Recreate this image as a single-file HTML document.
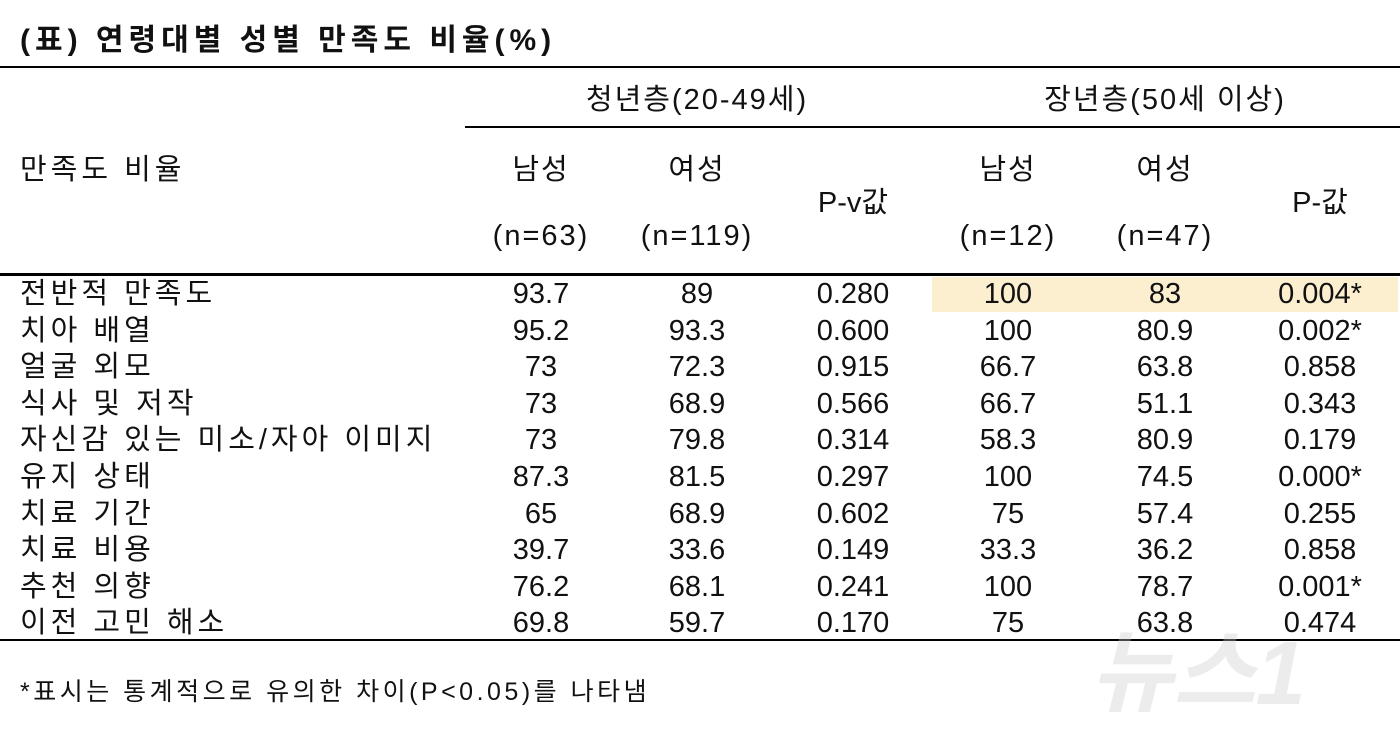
<!DOCTYPE html>
<html><head><meta charset="utf-8"><style>
body{margin:0;width:1400px;height:723px;background:#fff;position:relative;overflow:hidden;font-family:"Liberation Sans","Noto Sans CJK KR",sans-serif;color:#111}
.a{position:absolute;white-space:nowrap}
.t{font-size:29px;line-height:36px;transform:translateX(-50%)}
.k{letter-spacing:2px}
.l{font-size:29px;line-height:36px;left:20px;letter-spacing:4px}
.ln{position:absolute;background:#000}
</style></head><body>
<div class="a" style="left:20px;top:15px;font-size:30px;font-weight:bold;letter-spacing:5px">(표) 연령대별 성별 만족도 비율(%)</div>
<div class="ln" style="left:0;top:66px;width:1400px;height:2px"></div>
<div class="ln" style="left:465px;top:126px;width:935px;height:2px"></div>
<div class="ln" style="left:0;top:273px;width:1400px;height:3px"></div>
<div class="ln" style="left:0;top:639px;width:1400px;height:2px"></div>
<div class="a" style="left:932px;top:277px;width:466px;height:35px;background:#fcefd0"></div>
<div class="a t k" style="left:697px;top:82px">청년층(20-49세)</div>
<div class="a t k" style="left:1165px;top:82px">장년층(50세 이상)</div>
<div class="a l" style="top:152px">만족도 비율</div>
<div class="a t k" style="left:541px;top:152px">남성</div>
<div class="a t k" style="left:697px;top:152px">여성</div>
<div class="a t" style="left:853px;top:185px">P-v값</div>
<div class="a t k" style="left:1008px;top:152px">남성</div>
<div class="a t k" style="left:1165px;top:152px">여성</div>
<div class="a t" style="left:1320px;top:185px">P-값</div>
<div class="a t k" style="left:541px;top:218px">(n=63)</div>
<div class="a t k" style="left:697px;top:218px">(n=119)</div>
<div class="a t k" style="left:1008px;top:218px">(n=12)</div>
<div class="a t k" style="left:1165px;top:218px">(n=47)</div>
<div id="rows"></div>
<div class="a" style="left:1090px;top:600px;font-size:90px;font-weight:bold;font-style:italic;color:rgba(200,200,200,0.35)">뉴스1</div>
<div class="a" style="left:20px;top:672px;font-size:25px;letter-spacing:3.5px">*표시는 통계적으로 유의한 차이(P&lt;0.05)를 나타냄</div>
<script>
var d=[["전반적 만족도","93.7","89","0.280","100","83","0.004*"],["치아 배열","95.2","93.3","0.600","100","80.9","0.002*"],["얼굴 외모","73","72.3","0.915","66.7","63.8","0.858"],["식사 및 저작","73","68.9","0.566","66.7","51.1","0.343"],["자신감 있는 미소/자아 이미지","73","79.8","0.314","58.3","80.9","0.179"],["유지 상태","87.3","81.5","0.297","100","74.5","0.000*"],["치료 기간","65","68.9","0.602","75","57.4","0.255"],["치료 비용","39.7","33.6","0.149","33.3","36.2","0.858"],["추천 의향","76.2","68.1","0.241","100","78.7","0.001*"],["이전 고민 해소","69.8","59.7","0.170","75","63.8","0.474"]];
var x=[541,697,853,1008,1165,1320],h="";
d.forEach(function(r,i){var y=276+i*36.6;h+='<div class="a l" style="top:'+y+'px">'+r[0]+'</div>';for(var j=1;j<7;j++)h+='<div class="a t" style="left:'+x[j-1]+'px;top:'+y+'px">'+r[j]+'</div>';});
document.getElementById("rows").innerHTML=h;
</script>
</body></html>
